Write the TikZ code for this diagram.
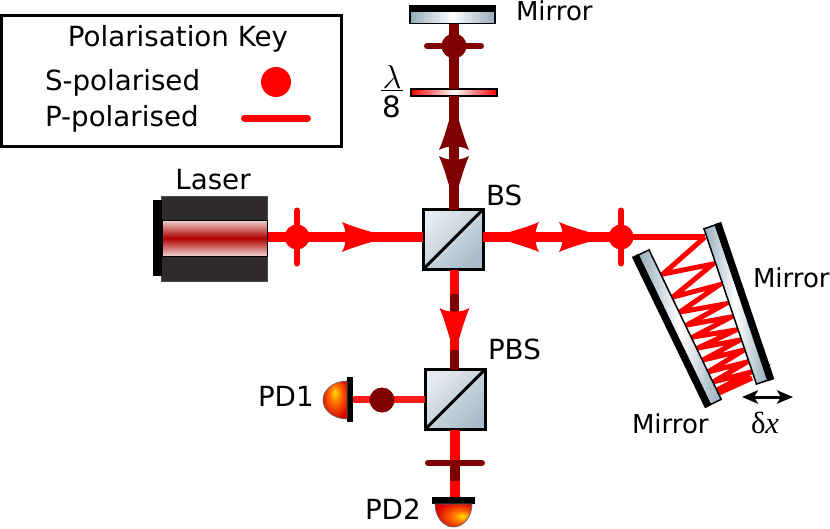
\documentclass[tikz,border=0pt]{standalone}
\usepackage{fontspec}
\setmainfont{DejaVu Sans}
\newfontfamily\deltafont{Liberation Serif}
\usetikzlibrary{arrows.meta}
\newlength{\du}
\setlength{\du}{0.75pt}
\definecolor{beamredcolor}{rgb}{1.000000, 0.000000, 0.000000}
\definecolor{beamdarkcolor}{rgb}{0.500000, 0.000000, 0.000000}
\definecolor{mirrorcolor}{rgb}{0.580000, 0.670000, 0.730000}
\definecolor{cubelightcolor}{rgb}{0.900000, 0.920000, 0.940000}
\definecolor{cubedarkcolor}{rgb}{0.660000, 0.740000, 0.790000}
\definecolor{lasercolor}{rgb}{0.180000, 0.165000, 0.180000}
\definecolor{coreedgecolor}{rgb}{0.930000, 0.830000, 0.820000}
\definecolor{corecolor}{rgb}{0.690000, 0.000000, 0.000000}
\pgfdeclareradialshading{pdshade}{\pgfpoint{0bp}{10bp}}{%
color(0bp)=(yellow!75!orange);
color(12bp)=(orange!85!red);
color(30bp)=(red!85!black);
color(50bp)=(red!70!black)}
\pgfdeclareradialshading{pdshaderight}{\pgfpoint{13bp}{-2bp}}{%
color(0bp)=(yellow!75!orange);
color(12bp)=(orange!85!red);
color(30bp)=(red!85!black);
color(50bp)=(red!70!black)}
\tikzset{
  labeltext/.style={anchor=base west,inner sep=0pt,outer sep=0pt,font=\fontsize{20.8pt}{24pt}\selectfont},
  mirrortext/.style={labeltext,font=\fontsize{19.5pt}{24pt}\selectfont},
  beamS/.style={draw=beamredcolor,line width=9.5\du},
  beamD/.style={draw=beamdarkcolor,line width=9.5\du},
  beamthin/.style={draw=beamredcolor,line width=6.5\du},
  beamzig/.style={draw=beamredcolor,line width=5\du,line join=miter},
  tickS/.style={draw=beamredcolor,line width=6\du,line cap=round},
  tickD/.style={draw=beamdarkcolor,line width=6\du,line cap=round},
  dotS/.style={circle,fill=beamredcolor,minimum size=25\du,inner sep=0pt,outer sep=0pt},
  dotD/.style={circle,fill=beamdarkcolor,minimum size=25\du,inner sep=0pt,outer sep=0pt},
  cubebox/.style={rectangle,draw=black,line width=3\du,inner sep=0pt,outer sep=0pt,minimum size=60\du,
    top color=cubelightcolor,bottom color=cubedarkcolor,shading angle=45,
    path picture={\draw[black,line width=3\du] (path picture bounding box.south west) -- (path picture bounding box.north east);}},
  mirrorbox/.style={rectangle,draw=black,line width=1.5\du,inner sep=0pt,outer sep=0pt,
    left color=mirrorcolor,right color=mirrorcolor,middle color=white},
  mirrorbar/.style={rectangle,fill=black,inner sep=0pt,outer sep=0pt,anchor=south,minimum height=6.5\du},
  platebox/.style={rectangle,draw=black,line width=2\du,inner sep=0pt,outer sep=0pt,
    left color=beamredcolor,right color=beamredcolor,middle color=white},
  blackbar/.style={rectangle,fill=black,inner sep=0pt,outer sep=0pt},
  pics/beamtip/.style={code={
    \fill (0\du,-4.5\du) .. controls (-10\du,-7.5\du) and (-22\du,-11\du) .. (-31\du,-15\du)
      .. controls (-26\du,-6\du) and (-26\du,6\du) .. (-31\du,15\du)
      .. controls (-22\du,11\du) and (-10\du,7.5\du) .. (0\du,4.5\du) -- cycle;}}
}
\begin{document}
\begin{tikzpicture}
\pgftransformxscale{1.000000}
\pgftransformyscale{-1.000000}
\useasboundingbox (0\du,0\du) rectangle (830\du,528\du);
\node (keybox) [rectangle,draw=black,line width=3\du,inner sep=0pt,outer sep=0pt,minimum width=340\du,minimum height=131\du] at (171.5\du,81\du) {};
\node (keytitle) [labeltext,anchor=base] at (178\du,46\du) {Polarisation Key};
\node (keyS) [labeltext] at (45\du,90\du) {S-polarised};
\node (keyP) [labeltext] at (45\du,126\du) {P-polarised};
\node (keydot) [dotS,minimum size=30\du] at (276\du,82\du) {};
\coordinate (keyl) at (244.5\du,118\du);
\coordinate (keyr) at (307.5\du,118\du);
\draw[tickS,line width=7\du] (keyl) -- (keyr);

\node (laser) [rectangle,draw=black!70,line width=1\du,fill=lasercolor,inner sep=0pt,outer sep=0pt,minimum width=106\du,minimum height=85\du] at (214.5\du,238.5\du) {};
\node (lasercore) [rectangle,draw=black,line width=1\du,inner sep=0pt,outer sep=0pt,minimum width=105\du,minimum height=36\du,
  top color=coreedgecolor,bottom color=coreedgecolor,middle color=corecolor] at (214.5\du,238\du) {};
\node (laserback) [blackbar,minimum width=9\du,minimum height=76\du] at (157.5\du,238\du) {};
\node (laserlabel) [labeltext,anchor=base] at (213\du,189\du) {Laser};

\node (bs) [cubebox] at (453\du,239.5\du) {};
\node (pbs) [cubebox] at (455\du,399.5\du) {};
\node (bslabel) [labeltext] at (486\du,205\du) {BS};
\node (pbslabel) [labeltext] at (488\du,359\du) {PBS};

\node (mirrortop) [mirrorbox,minimum width=85\du,minimum height=12\du] at (452.5\du,17.7\du) {};
\node (mirrortopbar) [mirrorbar,minimum width=87\du] at (mirrortop.north) {};
\node (mirrortoplabel) [mirrortext] at (516\du,21\du) {Mirror};
\node (plate) [platebox,minimum width=86\du,minimum height=7\du] at (454\du,92.5\du) {};
\node (platetop) [labeltext,anchor=base,font=\fontsize{24.88pt}{28pt}\selectfont] at (392\du,88\du) {$\lambda$};
\node (platebot) [labeltext,anchor=base,font=\fontsize{22pt}{24pt}\selectfont] at (392\du,117\du) {8};
\coordinate (fracl) at (381\du,90.5\du);
\coordinate (fracr) at (403\du,90.5\du);
\draw[line width=1.5\du] (fracl) -- (fracr);

\node (spa) [dotS] at (297\du,237\du) {};
\node (spb) [dotS] at (621\du,237\du) {};
\node (sdtop) [dotD] at (454\du,46\du) {};

\draw[beamS] (spa.center) -- (spa -| laser.east);
\draw[beamS] (spa.center) -- (spa -| bs.west);
\draw[tickS] ([yshift=26.5\du]spa.center) -- ([yshift=-26.5\du]spa.center);
\pic[beamredcolor] at (373\du,237\du) {beamtip};

\draw[beamS] (spb.center) -- (spb -| bs.east);
\draw[tickS] ([yshift=26.5\du]spb.center) -- ([yshift=-26.5\du]spb.center);
\pic[beamredcolor,rotate=180] at (508\du,237\du) {beamtip};
\pic[beamredcolor] at (590\du,237\du) {beamtip};

\coordinate (zigstart) at (705\du,237\du);
\draw[beamthin] (spb.center) -- (zigstart);
\draw[beamzig] (zigstart) -- (663\du,274\du) -- (713\du,264\du) -- (673\du,297\du) -- (719\du,285\du) -- (680\du,312\du)
  -- (725\du,304\du) -- (687\du,325\du) -- (731\du,317\du) -- (693\du,337\du) -- (736\du,330\du) -- (698\du,348\du)
  -- (740\du,340\du) -- (703\du,360\du) -- (744\du,350\du) -- (708\du,372\du) -- (747\du,362\du) -- (713\du,382\du)
  -- (751\du,372\du) -- (717\du,390\du) -- (752\du,378\du) -- (719\du,393\du);
\node (mirrorright) [mirrorbox,rotate=-71.3,minimum width=164\du,minimum height=12\du] at (735.9\du,304.5\du) {};
\node (mirrorrightbar) [mirrorbar,rotate=-71.3,minimum width=166\du] at (mirrorright.north) {};
\node (mirrorleft) [mirrorbox,rotate=115.8,minimum width=166\du,minimum height=12\du] at (679.7\du,327.2\du) {};
\node (mirrorleftbar) [mirrorbar,rotate=115.8,minimum width=168\du] at (mirrorleft.north) {};
\node (mirrorrightlabel) [mirrortext] at (753\du,287\du) {Mirror};
\node (mirrorleftlabel) [mirrortext] at (632\du,433\du) {Mirror};

\draw[beamD] (sdtop.center) -- (sdtop |- mirrortop.south);
\draw[beamD] (sdtop.center) -- (sdtop |- plate.north);
\draw[beamD] (sdtop |- plate.south) -- (sdtop |- bs.north);
\draw[tickD] ([xshift=-27\du]sdtop.center) -- ([xshift=27\du]sdtop.center);
\pic[beamdarkcolor,rotate=90] at (454\du,119\du) {beamtip};
\pic[beamdarkcolor,rotate=-90] at (454\du,187\du) {beamtip};

\coordinate (darka) at (454.5\du,294\du);
\coordinate (darkb) at (454.5\du,313\du);
\coordinate (darkc) at (454.5\du,350\du);
\draw[beamS] (darka |- bs.south) -- (darka);
\draw[beamD] (darka) -- (darkb);
\draw[beamS] (darkb) -- (darkc);
\draw[beamD] (darkc) -- (darkc |- pbs.north);
\pic[beamredcolor,rotate=-90] at (454.5\du,339\du) {beamtip};

\node (pdonebar) [blackbar,minimum width=6\du,minimum height=45\du] at (350\du,399\du) {};
\node (pdtwobar) [blackbar,minimum width=43\du,minimum height=7\du] at (453.5\du,500.5\du) {};
\draw[beamthin,draw=beamredcolor!90!white] (pbs.west) -- (pbs.west -| pdonebar.east);
\node (sdpd) [dotD] at (382\du,400\du) {};
\node (pdonelabel) [labeltext] at (258\du,406\du) {PD1};
\node (pdtwolabel) [labeltext] at (365\du,519\du) {PD2};
\shade[shading=pdshade,draw=black!60,line width=0.7\du] (347\du,381\du) arc[start angle=270,end angle=90,x radius=24\du,y radius=19\du] -- cycle;
\shade[shading=pdshaderight,draw=black!60,line width=0.7\du] (435\du,504\du) arc[start angle=180,end angle=0,x radius=18.5\du,y radius=23\du] -- cycle;

\coordinate (tickpd) at (455\du,463\du);
\coordinate (darkd) at (455\du,481\du);
\draw[beamS] (tickpd |- pbs.south) -- (tickpd);
\draw[beamD] (tickpd) -- (darkd);
\draw[beamS] (darkd) -- (darkd |- pdtwobar.north);
\draw[tickD] ([xshift=-27\du]tickpd) -- ([xshift=27\du]tickpd);

\coordinate (shiftl) at (742\du,397\du);
\coordinate (shiftr) at (793\du,397\du);
\draw[{Stealth[length=12pt,width=10pt,inset=3pt]}-{Stealth[length=12pt,width=10pt,inset=3pt]},line width=3\du] (shiftl) -- (shiftr);
\node (shiftlabel) [labeltext,font=\fontsize{23pt}{26pt}\deltafont] at (751\du,433\du) {δ\textit{x}};
\end{tikzpicture}
\end{document}
